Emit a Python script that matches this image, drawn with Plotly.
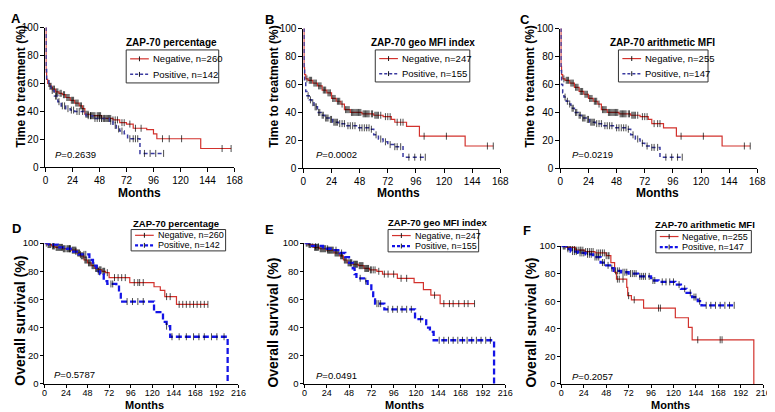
import numpy as np
import plotly.graph_objects as go

W, H = 775, 412

# ---------------- DATA ----------------
# Panel A: Time to treatment, ZAP-70 percentage
A_neg_t = [0, 0.5, 1, 2, 4, 6, 9, 12, 15, 18, 22, 26, 30, 33, 35, 40, 50, 60, 66, 72, 78, 90, 96, 99, 138]
A_neg_s = [100, 68, 63, 60, 58, 56, 54, 53, 52, 50, 48, 46, 44, 42, 38, 37, 35, 34, 32, 31, 28, 27, 24, 20.5, 13.5]
A_neg_c = [3, 5, 7, 8, 10, 11, 13, 14, 16, 17, 19, 20, 21, 23, 24, 25, 27, 28, 29, 31, 32, 34, 36, 37, 38, 40, 41, 42,
           43, 44, 46, 47, 48, 49, 50, 52, 53, 55, 56, 57, 58, 60, 62, 64, 68, 70, 75, 80, 85, 104, 110, 121, 157, 165]
A_pos_t = [0, 0.5, 1, 3, 5, 8, 11, 14, 18, 22, 26, 34, 36, 42, 57, 60, 63, 66, 70, 73, 84]
A_pos_s = [100, 70, 62, 58, 55, 51, 47, 44, 42, 41, 40, 38, 37, 35, 33, 30, 27.5, 26, 24, 20.5, 10]
A_pos_c = [4, 6, 9, 10, 12, 15, 17, 20, 23, 25, 28, 30, 33, 38, 40, 44, 46, 48, 50, 52, 54, 58, 62, 65, 68, 75, 78,
           80, 82, 88, 93, 98, 105]

# Panel B: Time to treatment, ZAP-70 geo MFI index
B_neg_t = [0, 0.5, 1, 2, 4, 8, 12, 16, 20, 24, 28, 32, 35, 40, 50, 60, 68, 75, 78, 88, 99, 138]
B_neg_s = [100, 72, 67, 64, 63, 61, 59, 56, 54, 50, 48, 46, 42, 40, 39, 38, 37, 35, 33, 30, 23, 16]
B_neg_c = [3, 5, 6, 7, 9, 10, 11, 13, 14, 15, 17, 18, 19, 21, 22, 23, 25, 26, 27, 29, 30, 31, 33, 36, 37, 38, 39, 41,
           42, 43, 44, 45, 46, 47, 48, 49, 51, 52, 53, 54, 55, 56, 58, 59, 61, 62, 63, 64, 66, 70, 72, 74, 80, 83, 85,
           103, 122, 157, 162]
B_pos_t = [0, 0.5, 1, 2, 3, 5, 7, 9, 12, 15, 18, 22, 25, 30, 36, 46, 57, 60, 64, 68, 72, 77, 85]
B_pos_s = [100, 72, 62, 55, 52, 49, 47, 44, 40, 38, 36, 35, 33, 32, 30.5, 29, 28, 24, 21, 19, 17, 15.5, 8]
B_pos_c = [4, 6, 8, 10, 11, 13, 14, 16, 17, 19, 20, 21, 23, 24, 26, 27, 28, 29, 31, 33, 35, 38, 40, 42, 44, 48, 50,
           52, 54, 56, 58, 62, 66, 70, 74, 78, 80, 83, 90, 95, 100, 104]

# Panel C: Time to treatment, ZAP-70 arithmetic MFI
C_neg_t = [0, 0.5, 1, 2, 4, 8, 12, 16, 20, 24, 28, 32, 35, 40, 50, 60, 68, 75, 78, 88, 99, 138]
C_neg_s = [100, 73, 67, 64, 63, 61, 58, 55, 53, 50, 48, 46, 42, 40, 39, 38, 37, 35, 32, 29, 23, 16]
C_neg_c = [3, 5, 6, 7, 9, 10, 11, 13, 14, 15, 17, 18, 19, 21, 22, 23, 25, 26, 27, 29, 30, 31, 33, 36, 37, 38, 39, 41,
           42, 43, 44, 45, 46, 47, 48, 49, 51, 52, 53, 54, 55, 56, 58, 59, 61, 62, 63, 64, 66, 70, 72, 74, 80, 83, 85,
           103, 122, 157, 162]
C_pos_t = [0, 0.5, 1, 2, 3, 5, 7, 9, 12, 15, 18, 22, 25, 30, 36, 46, 57, 60, 64, 68, 72, 77, 85]
C_pos_s = [100, 70, 60, 54, 51, 48, 46, 43, 40, 38, 36, 35, 33, 32, 30.5, 29, 28, 24, 21, 18, 16, 15, 8]
C_pos_c = [4, 6, 8, 10, 11, 13, 14, 16, 17, 19, 20, 21, 23, 24, 26, 27, 28, 29, 31, 33, 35, 38, 40, 42, 44, 48, 50,
           52, 54, 56, 58, 62, 66, 70, 74, 78, 80, 83, 90, 95, 100, 104]

# Panel D: Overall survival, ZAP-70 percentage
D_neg_t = [0, 3, 8, 12, 20, 30, 36, 40, 44, 48, 52, 56, 60, 64, 68, 72, 95, 122, 129, 134, 147]
D_neg_s = [100, 99, 98, 97, 96, 95, 93, 91, 88, 86, 84, 82, 81, 80, 79, 75.5, 72, 69, 66.5, 62, 56.5]
D_neg_c = [2, 4, 5, 6, 7, 9, 10, 11, 13, 14, 15, 16, 17, 18, 19, 21, 22, 23, 25, 26, 27, 28, 29, 31, 32, 33, 34, 35,
           37, 38, 39, 41, 42, 43, 45, 46, 47, 49, 50, 51, 53, 54, 55, 57, 58, 59, 61, 62, 63, 65, 66, 67, 70, 78,
           82, 86, 90, 100, 104, 106, 110, 136, 140, 150, 154, 158, 162, 166, 170, 174, 178, 182]
D_pos_t = [0, 5, 15, 25, 32, 38, 50, 54, 58, 62, 66, 70, 80, 83, 85, 122, 132, 136, 140, 204]
D_pos_s = [100, 99, 97, 96, 94, 92, 88, 84, 80, 78, 73, 71, 69, 64, 58.5, 51, 44, 41, 33.5, 0]
D_pos_c = [10, 20, 28, 35, 40, 44, 46, 60, 74, 76, 92, 98, 104, 110, 136, 142, 150, 158, 166, 172, 178, 186, 192, 200]

# Panel E: Overall survival, ZAP-70 geo MFI index
E_neg_t = [0, 4, 10, 16, 24, 32, 38, 42, 46, 52, 58, 64, 70, 78, 84, 100, 118, 128, 136, 146]
E_neg_s = [100, 99, 97, 96, 95, 93, 91, 88, 86, 85, 84, 82, 81, 80, 78, 75, 72, 67, 63, 57]
E_neg_c = [2, 3, 5, 6, 7, 9, 11, 12, 13, 14, 15, 17, 18, 19, 20, 21, 22, 23, 25, 26, 27, 28, 29, 30, 31, 33, 34, 35,
           36, 37, 39, 40, 41, 43, 44, 45, 47, 48, 49, 50, 51, 53, 54, 55, 56, 57, 59, 60, 61, 62, 63, 65, 66, 67,
           68, 69, 71, 72, 74, 76, 80, 86, 90, 96, 104, 110, 140, 150, 156, 160, 166, 172, 176, 183]
E_pos_t = [0, 8, 20, 30, 38, 44, 48, 52, 54, 56, 64, 68, 72, 74, 76, 86, 119, 131, 135, 139, 204]
E_pos_s = [100, 98, 96, 95, 93, 90, 86, 82, 78, 75, 73, 70, 65, 60, 57, 53, 46, 40, 37, 31, 0]
E_pos_c = [5, 12, 15, 25, 34, 40, 50, 60, 66, 78, 80, 82, 90, 95, 100, 105, 110, 115, 125, 145, 150, 155, 160, 165,
           170, 175, 180, 185, 190, 195, 200]

# Panel F: Overall survival, ZAP-70 arithmetic MFI
F_neg_t = [0, 5, 15, 25, 36, 48, 53, 57, 59, 70, 71, 75, 88, 122, 136, 140, 206]
F_neg_s = [100, 99, 97, 96, 95, 93, 88, 81, 76, 70, 64, 61, 55, 48, 41, 32, 0]
F_neg_c = [2, 4, 7, 9, 10, 12, 14, 16, 18, 20, 21, 23, 26, 28, 30, 32, 34, 38, 40, 42, 44, 46, 48, 50, 51, 60, 62, 66,
           72, 78, 104, 106, 146, 170, 172]
F_pos_t = [0, 5, 10, 18, 26, 34, 42, 48, 52, 56, 64, 72, 82, 96, 104, 122, 128, 134, 140, 146, 150]
F_pos_s = [100, 98, 96, 95, 94, 92, 88, 86, 84, 82, 81, 80, 78, 75, 74, 72, 69, 66, 63, 60, 57]
F_pos_c = [3, 7, 12, 14, 16, 20, 22, 24, 28, 30, 32, 36, 38, 40, 44, 46, 50, 54, 58, 60, 62, 66, 68, 70, 74, 76, 78,
           80, 84, 86, 88, 90, 94, 98, 100, 108, 112, 116, 120, 126, 132, 138, 142, 144, 148, 155, 160, 165, 170,
           175, 180, 185]

panel_letters = ["A", "B", "C", "D", "E", "F"]
panel_titles = ["ZAP-70 percentage", "ZAP-70 geo MFI index", "ZAP-70 arithmetic MFI",
                "ZAP-70 percentage", "ZAP-70 geo MFI index", "ZAP-70 arithmetic MFI"]
neg_labels = ["Negative, n=260", "Negative, n=247", "Negative, n=255",
              "Negative, n=260", "Negative, n=247", "Negative, n=255"]
pos_labels = ["Positive, n=142", "Positive, n=155", "Positive, n=147",
              "Positive, n=142", "Positive, n=155", "Positive, n=147"]
p_values = ["0.2639", "0.0002", "0.0219", "0.5787", "0.0491", "0.2057"]
y_titles = ["Time to treatment (%)"] * 3 + ["Overall survival (%)"] * 3
x_title = "Months"
x_ticks_top = [0, 24, 48, 72, 96, 120, 144, 168]
x_ticks_bottom = [0, 24, 48, 72, 96, 120, 144, 168, 192, 216]
y_ticks = [0, 20, 40, 60, 80, 100]

curves = [
    (A_neg_t, A_neg_s, A_neg_c, A_pos_t, A_pos_s, A_pos_c),
    (B_neg_t, B_neg_s, B_neg_c, B_pos_t, B_pos_s, B_pos_c),
    (C_neg_t, C_neg_s, C_neg_c, C_pos_t, C_pos_s, C_pos_c),
    (D_neg_t, D_neg_s, D_neg_c, D_pos_t, D_pos_s, D_pos_c),
    (E_neg_t, E_neg_s, E_neg_c, E_pos_t, E_pos_s, E_pos_c),
    (F_neg_t, F_neg_s, F_neg_c, F_pos_t, F_pos_s, F_pos_c),
]

# ---------------- LAYOUT (pixel boxes) ----------------
# plot area boxes: x0, x1, y0(top), y1(bottom)
boxes = [(35, 227, 14, 158), (297, 497, 15, 159), (558, 758, 15, 159),
         (34, 231, 236, 381), (298, 502, 236, 381), (559, 764, 239, 381)]
# legend boxes: x0, x1, y0, y1 (pixels)
leg_boxes = [(117, 211, 37, 71), (370, 466, 37, 70), (617, 708, 37, 70),
             (122, 218, 222, 244), (383, 475, 222, 245), (655, 752, 223, 246)]
title_pos = [(163, 29), (418, 29), (662, 29), (168, 216), (433, 215), (705, 217)]
letter_pos = [(5, 5), (263, 6), (522, 6), (6, 221), (263, 222), (524, 223)]
p_pos = [(43, 145), (308, 145), (568, 145), (42, 371), (308, 372), (568, 373)]
ytitle_pos = [(10, 75), (267, 75), (527, 75), (9, 316), (266, 318), (528, 318)]
xtitle_pos = [(131, 184), (394, 184), (657, 184), (136, 403), (400, 403), (670, 403)]

FONT = "Arial, Liberation Sans, Helvetica, sans-serif"
RED = "#d2322d"
BLUE_TOP = "#3a3aa0"
BLUE_BOT = "#1414e6"


def px(x):
    return x / W


def py(y):
    return 1 - y / H


def km_points(t, s, cens):
    pts = [(ti, si, 0) for ti, si in zip(t, s)]
    for c in cens:
        idx = int(np.searchsorted(t, c, side="right")) - 1
        pts.append((c, s[idx], 1))
    pts.sort(key=lambda p: (p[0], p[2]))
    xs = [p[0] for p in pts]
    ys = [p[1] for p in pts]
    sz = [5 if p[2] else 0 for p in pts]
    return xs, ys, sz


fig = go.Figure()
layout = dict(
    width=W, height=H, margin=dict(l=0, r=0, t=0, b=0),
    paper_bgcolor="white", plot_bgcolor="white", showlegend=False,
    font=dict(family=FONT, size=10, color="black"),
    annotations=[], shapes=[],
)


def ann(x, y, text, size, **kw):
    d = dict(x=px(x), y=py(y), xref="paper", yref="paper", showarrow=False,
             xanchor="center", yanchor="middle", text=text, font=dict(size=size, family=FONT, color="black"))
    d.update(kw)
    layout["annotations"].append(d)


for i in range(6):
    k = "" if i == 0 else str(i + 1)
    xa, ya = "x" + k, "y" + k
    top = i < 3
    bx = boxes[i]
    blue = BLUE_TOP if top else BLUE_BOT
    nt, ns, nc, pt, ps, pc = curves[i]
    neg_line = dict(shape="hv", color=RED, width=1.2)
    pos_line = dict(shape="hv", color=blue, width=1.5 if top else 2.3, dash="4px,3px" if top else "6px,3px")

    xs, ys, sz = km_points(nt, ns, nc)
    fig.add_trace(go.Scatter(
        x=xs, y=ys, mode="lines+markers", name=neg_labels[i], line=neg_line,
        marker=dict(symbol="line-ns-open", size=sz, color="black", line=dict(width=1, color="#1a1a1a")),
        xaxis=xa, yaxis=ya, hoverinfo="skip"))
    xs, ys, sz = km_points(pt, ps, pc)
    fig.add_trace(go.Scatter(
        x=xs, y=ys, mode="lines+markers", name=pos_labels[i], line=pos_line,
        marker=dict(symbol="line-ns-open", size=sz, color="black", line=dict(width=1, color="#1a1a1a")),
        xaxis=xa, yaxis=ya, hoverinfo="skip"))

    xmax = 168 if top else 216
    axis_common = dict(showgrid=False, zeroline=False, showline=True, linecolor="black", linewidth=1,
                       ticks="outside", tickwidth=1, tickcolor="black")
    layout["xaxis" + k] = dict(domain=[px(bx[0]), px(bx[1])], range=[0, xmax],
                               tickvals=x_ticks_top if top else x_ticks_bottom,
                               ticklen=4 if top else 3,
                               tickfont=dict(family=FONT, size=10 if top else 9, color="black"),
                               ticklabelstandoff=0 if top else -3,
                               anchor=ya, **axis_common)
    layout["yaxis" + k] = dict(domain=[py(bx[3]), py(bx[2])], range=[0, 100],
                               tickvals=y_ticks, ticklen=4 if top else 3,
                               tickfont=dict(family=FONT, size=10 if top else 9.5, color="black"),
                               anchor=xa, **axis_common)

    # legend box (drawn in paper space)
    lx0, lx1, ly0, ly1 = leg_boxes[i]
    layout["shapes"].append(dict(type="rect", xref="paper", yref="paper",
                                 x0=px(lx0), x1=px(lx1), y0=py(ly1), y1=py(ly0),
                                 line=dict(color="#333", width=1), fillcolor="white", layer="above"))
    hgt = ly1 - ly0
    rows = [ly0 + hgt * 0.27, ly0 + hgt * 0.74]
    sx0, sx1 = lx0 + 4, lx0 + 23
    for r, (lbl, lst) in enumerate([(neg_labels[i], neg_line), (pos_labels[i], pos_line)]):
        yy = rows[r]
        ld = dict(color=lst["color"], width=lst["width"])
        if "dash" in lst:
            ld["dash"] = "3px,2px"
        layout["shapes"].append(dict(type="line", xref="paper", yref="paper",
                                     x0=px(sx0), x1=px(sx1), y0=py(yy), y1=py(yy), line=ld, layer="above"))
        mid = (sx0 + sx1) / 2
        layout["shapes"].append(dict(type="line", xref="paper", yref="paper",
                                     x0=px(mid), x1=px(mid), y0=py(yy - 2.5), y1=py(yy + 2.5),
                                     line=dict(color="#1a1a1a", width=1), layer="above"))
        ann(sx1 + 2, yy, lbl, 9.5 if top else 9, xanchor="left")

    tx, ty = title_pos[i]
    ann(tx, ty, "<b>" + panel_titles[i] + "</b>", 10 if top else 9.5)
    lx2, ly2 = letter_pos[i]
    ann(lx2, ly2, "<b>" + panel_letters[i] + "</b>", 13)
    ppx, ppy = p_pos[i]
    ann(ppx, ppy, "<i>P</i>=" + p_values[i], 9.5, xanchor="left")
    yx, yy2 = ytitle_pos[i]
    ann(yx, yy2, "<b>" + y_titles[i] + "</b>", 12 if top else 14, textangle=-90)
    xx, xy = xtitle_pos[i]
    ann(xx, xy, "<b>" + x_title + "</b>", 12 if top else 11, borderpad=0)

fig.update_layout(**layout)
fig.write_html("out.html")
